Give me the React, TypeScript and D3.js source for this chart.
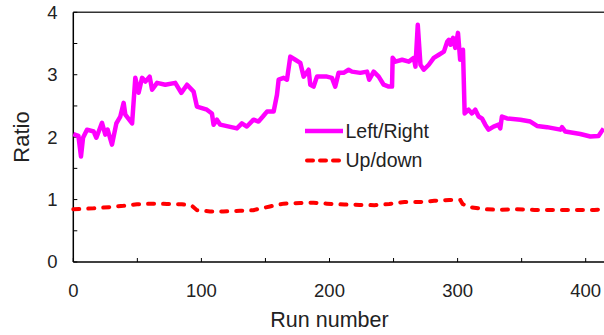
import React from "react";
import * as d3 from "d3";

const lrRuns = [0,4,6,7.6,10.7,15.9,18,22.4,25,26.8,30.2,33.6,36.7,39.3,40.6,45.9,48.4,51,53.7,56.3,59.6,61.5,65.4,71.8,79.6,84.3,88.8,93.9,96.5,104.3,108.2,109.5,112.1,114.7,127.7,131.6,135.5,140.7,144.6,148,151.2,156.4,159,160.3,164.2,166.8,169.4,173.3,177.2,179.8,183.7,185,187.6,190.2,198,201.9,204.5,207.1,211,214.9,217.5,224,229.3,231,234.5,238.4,242.3,246.2,248.8,249.3,251.5,256.7,261.9,265.8,267.1,268.9,271,273.6,277.5,281.4,285.4,289.3,291.9,293.2,294.5,296.4,298.2,300.3,302,304.2,305.5,308.6,311.2,313.8,316.4,319,321.6,324.2,328.1,332,333.3,334.6,338.6,349,356.8,362,369.8,380.2,381.5,384.1,395.8,403.6,410,414];
const lrValues = [2.05,2.02,1.69,1.99,2.12,2.09,1.99,2.23,2.04,2.12,1.88,2.22,2.33,2.55,2.36,2.22,2.95,2.71,2.95,2.89,2.97,2.76,2.87,2.84,2.87,2.71,2.84,2.73,2.49,2.44,2.38,2.2,2.28,2.2,2.14,2.22,2.17,2.28,2.25,2.33,2.41,2.41,2.68,2.92,2.95,2.92,3.29,3.24,3.19,2.97,3.08,2.84,2.81,2.97,2.97,2.95,2.81,3.03,3.03,3.08,3.05,3.03,3.05,2.92,3.05,2.97,2.84,2.81,2.81,3.27,3.21,3.24,3.21,3.27,3.13,3.8,3.16,3.08,3.16,3.27,3.32,3.37,3.53,3.56,3.48,3.59,3.43,3.67,3.24,3.4,2.38,2.44,2.38,2.44,2.33,2.3,2.2,2.12,2.17,2.2,2.14,2.33,2.3,2.28,2.25,2.18,2.16,2.12,2.16,2.09,2.05,2.01,2.02,2.14];

const udRuns = [0,15.9,28.9,39.3,49.7,61.4,73.1,84.8,92.6,96.5,106.7,117.1,130.1,140.5,153.5,164.2,177.2,187.6,197.9,211.6,223.3,235,246.7,258.4,270.1,281.8,293.5,302.1,303.9,309.1,322.2,332.6,345.6,359.9,383.3,406.7,414.5];
const udValues = [0.845,0.86,0.88,0.9,0.925,0.935,0.93,0.925,0.9,0.83,0.81,0.81,0.82,0.83,0.89,0.935,0.945,0.95,0.935,0.92,0.915,0.91,0.93,0.96,0.96,0.98,0.995,0.995,0.93,0.88,0.845,0.835,0.845,0.835,0.835,0.835,0.845];

const xTicks = [0, 100, 200, 300, 400];
const xMinorTicks = [50, 150, 250, 350];
const yTicks = [0, 1, 2, 3, 4];
const yMinorTicks = [0.5, 1.5, 2.5, 3.5];
const seriesNames = ["Left/Right", "Up/down"];

export default function App() {
  const x = d3.scaleLinear().domain([0, 400]).range([73.3, 585.7]);
  const y = d3.scaleLinear().domain([0, 4]).range([262, 12.3]);
  const lr = lrRuns.map((r, i) => [r, lrValues[i]] as [number, number]);
  const ud = udRuns.map((r, i) => [r, udValues[i]] as [number, number]);
  const line = d3.line<[number, number]>().x(d => x(d[0])).y(d => y(d[1]));
  const font = "Liberation Sans, Arial, sans-serif";
  const textColor = "#222";
  const x0 = x(0), yb = y(0), yt = y(4);
  return (
    <svg width={604} height={335} style={{ position: "absolute", left: 0, top: 0 }} fontFamily={font}>
      <rect width={604} height={335} fill="#fff" />
      {/* frame */}
      <line x1={x0} x2={620} y1={yt} y2={yt} stroke="#333" strokeWidth={1.5} />
      <line x1={x0} x2={x0} y1={yt} y2={yb} stroke="#000" strokeWidth={1.5} />
      <line x1={x0} x2={620} y1={yb} y2={yb} stroke="#000" strokeWidth={1.5} />
      {/* ticks */}
      {[...xTicks, ...xMinorTicks].map(t => (
        <line key={"xt" + t} x1={x(t)} x2={x(t)} y1={yb} y2={yb - 4} stroke="#000" strokeWidth={1} />
      ))}
      {[...yTicks, ...yMinorTicks].map(t => (
        <line key={"yt" + t} x1={x0} x2={x0 + 4} y1={y(t)} y2={y(t)} stroke="#000" strokeWidth={1} />
      ))}
      {xTicks.map(t => (
        <text key={"xl" + t} x={x(t)} y={297} textAnchor="middle" fontSize={18.5} fill={textColor}>{t}</text>
      ))}
      {yTicks.map(t => (
        <text key={"yl" + t} x={57.5} y={y(t)} dy="0.35em" textAnchor="end" fontSize={18.5} fill={textColor}>{t}</text>
      ))}
      <text x={329.5} y={327} textAnchor="middle" fontSize={21.5} fill={textColor}>Run number</text>
      <text transform={`translate(29,137) rotate(-90)`} textAnchor="middle" fontSize={22} fill={textColor}>Ratio</text>
      {/* series */}
      <path d={line(ud) || ""} fill="none" stroke="#ff0000" strokeWidth={4} strokeDasharray="6,9" strokeLinecap="round" />
      <path d={line(lr) || ""} fill="none" stroke="#ff00ff" strokeWidth={4.5} strokeLinejoin="round" />
      {/* legend */}
      <line x1={305} x2={343} y1={131} y2={131} stroke="#ff00ff" strokeWidth={4.5} />
      <text x={345.5} y={137.5} fontSize={19.5} fill={textColor}>{seriesNames[0]}</text>
      <line x1={307} x2={343} y1={160.5} y2={160.5} stroke="#ff0000" strokeWidth={4} strokeDasharray="6,7" strokeLinecap="round" />
      <text x={345.5} y={167} fontSize={19.5} fill={textColor}>{seriesNames[1]}</text>
    </svg>
  );
}
